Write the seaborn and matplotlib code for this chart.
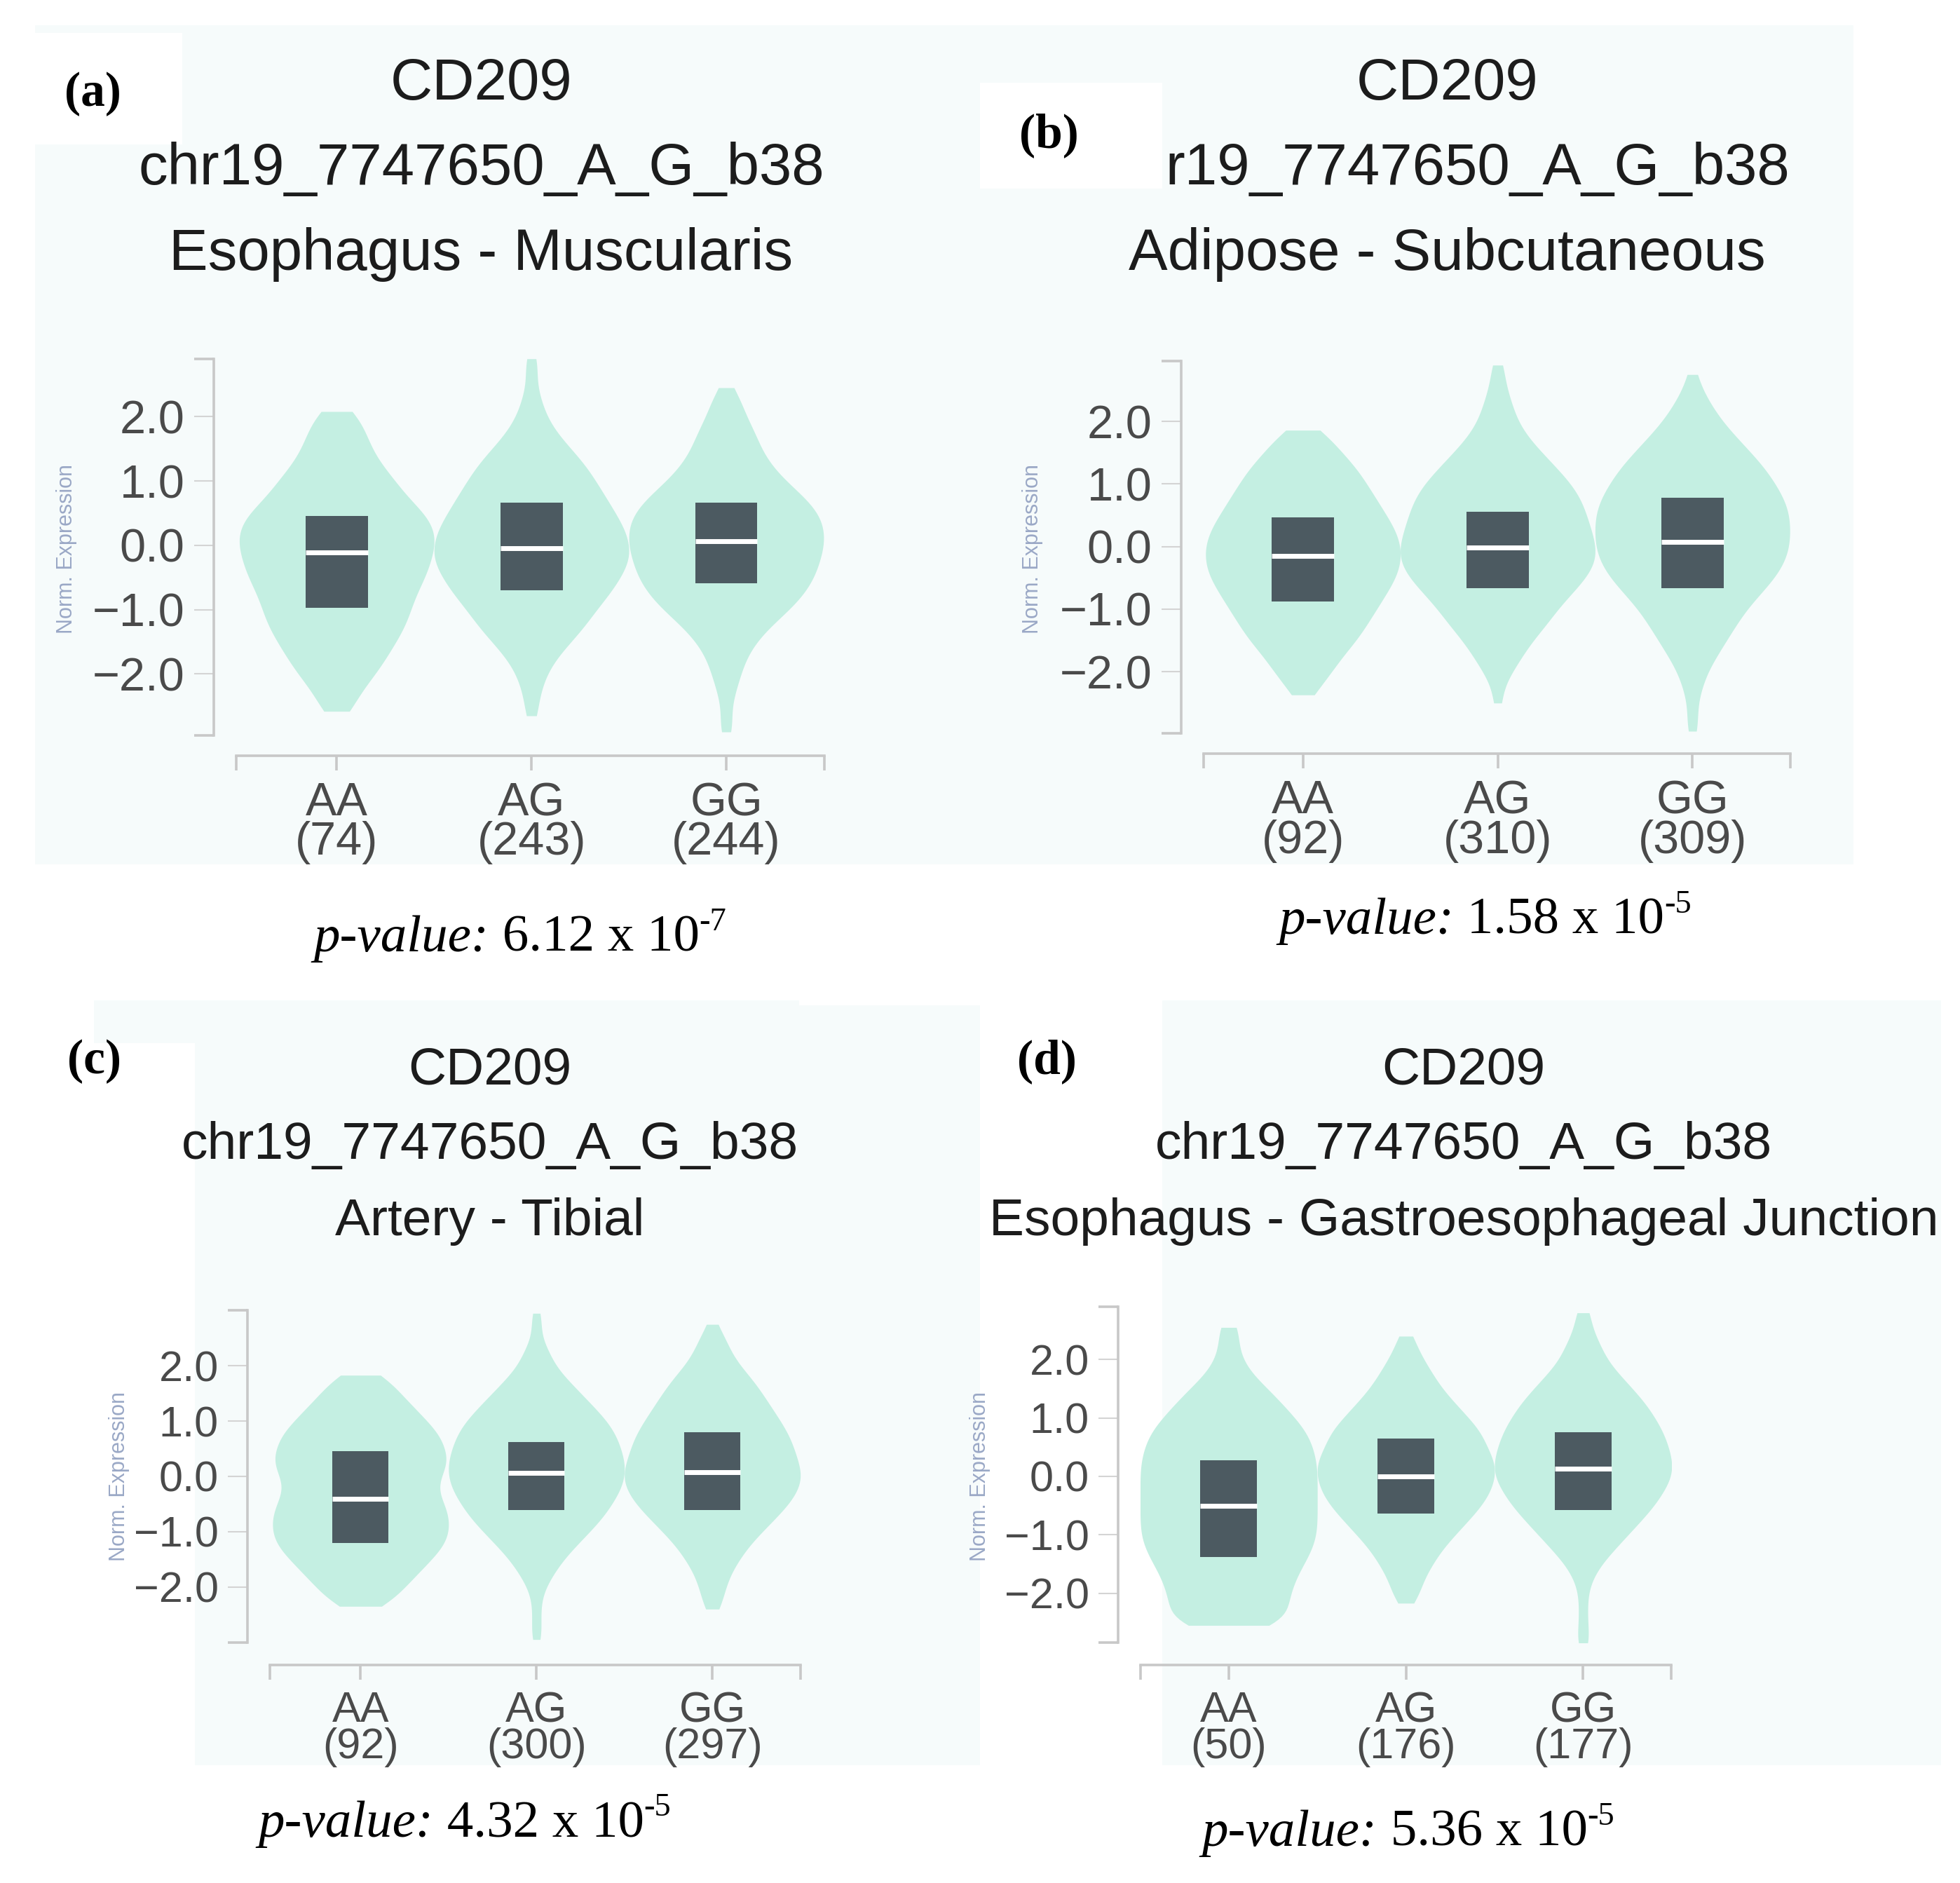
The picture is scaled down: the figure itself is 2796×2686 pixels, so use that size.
import numpy as np
import pandas as pd
import matplotlib
matplotlib.use("Agg")
import matplotlib.pyplot as plt
import seaborn as sns
from matplotlib.patches import Rectangle

# ---------------- data ----------------
GENOTYPES = ["AA", "AG", "GG"]
LEVELS = [-2.75, -2.5, -2.25, -2.0, -1.75, -1.5, -1.25, -1.0, -0.75, -0.5, -0.25,
          0.0, 0.25, 0.5, 0.75, 1.0, 1.25, 1.5, 1.75, 2.0, 2.25, 2.5, 2.75]

# (a) Esophagus - Muscularis
a_aa_counts = [0, 3, 5, 8, 10, 12, 14, 15, 16, 18, 19, 20, 20, 18, 14, 12, 9, 7, 6, 4, 0, 0, 0]
a_ag_counts = [0, 1, 2, 3, 5, 8, 11, 13, 16, 18, 20, 20, 19, 17, 15, 13, 11, 8, 5, 3, 2, 1, 1]
a_gg_counts = [1, 1, 2, 3, 4, 6, 9, 13, 16, 18, 19, 20, 20, 19, 16, 12, 9, 7, 6, 4, 3, 0, 0]
a_lo = [-2.58, -2.65, -2.9]
a_hi = [2.08, 2.9, 2.45]
a_q1 = [-0.97, -0.70, -0.59]
a_med = [-0.11, -0.05, 0.06]
a_q3 = [0.46, 0.66, 0.66]
a_n = [74, 243, 244]

# (b) Adipose - Subcutaneous
b_aa_counts = [0, 0, 3, 6, 8, 11, 13, 15, 17, 19, 20, 20, 19, 17, 15, 13, 11, 8, 5, 0, 0, 0, 0]
b_ag_counts = [0, 0, 1, 3, 5, 7, 10, 12, 15, 18, 20, 20, 19, 18, 17, 15, 12, 9, 6, 4, 3, 2, 1]
b_gg_counts = [1, 1, 2, 3, 5, 7, 9, 11, 14, 17, 19, 20, 20, 20, 19, 17, 15, 12, 9, 6, 4, 2, 0]
b_lo = [-2.37, -2.5, -2.95]
b_hi = [1.86, 2.9, 2.75]
b_q1 = [-0.88, -0.66, -0.66]
b_med = [-0.15, -0.02, 0.07]
b_q3 = [0.47, 0.56, 0.78]
b_n = [92, 310, 309]

# (c) Artery - Tibial
c_aa_counts = [0, 0, 7, 10, 13, 16, 19, 20, 20, 19, 17, 18, 20, 19, 18, 15, 12, 9, 6, 0, 0, 0, 0]
c_ag_counts = [1, 1, 1, 2, 4, 6, 9, 12, 15, 17, 19, 20, 20, 19, 18, 16, 13, 10, 7, 4, 3, 1, 1]
c_gg_counts = [0, 0, 2, 3, 4, 6, 8, 11, 14, 17, 19, 20, 19, 18, 17, 15, 13, 11, 9, 6, 4, 3, 0]
c_lo = [-2.35, -2.95, -2.4]
c_hi = [1.83, 2.95, 2.75]
c_q1 = [-1.2, -0.61, -0.61]
c_med = [-0.4, 0.06, 0.07]
c_q3 = [0.46, 0.62, 0.8]
c_n = [92, 300, 297]

# (d) Esophagus - Gastroesophageal Junction
d_aa_counts = [0, 14, 13, 14, 15, 17, 19, 20, 20, 20, 20, 20, 20, 19, 18, 15, 12, 9, 5, 3, 2, 2, 0]
d_ag_counts = [0, 0, 0, 3, 4, 6, 8, 11, 14, 17, 19, 20, 20, 18, 17, 14, 11, 8, 6, 4, 2, 0, 0]
d_gg_counts = [1, 1, 1, 1, 2, 4, 7, 10, 13, 16, 18, 20, 20, 19, 18, 16, 14, 11, 8, 5, 4, 2, 1]
d_lo = [-2.55, -2.17, -2.85]
d_hi = [2.55, 2.4, 2.8]
d_q1 = [-1.38, -0.63, -0.57]
d_med = [-0.5, 0.0, 0.13]
d_q3 = [0.28, 0.65, 0.75]
d_n = [50, 176, 177]

GENE = "CD209"
VARIANT = "chr19_7747650_A_G_b38"
VARIANT_B = "r19_7747650_A_G_b38"
TISSUES = ["Esophagus - Muscularis", "Adipose - Subcutaneous",
           "Artery - Tibial", "Esophagus - Gastroesophageal Junction"]
P_MANT = ["6.12", "1.58", "4.32", "5.36"]
P_EXP = ["-7", "-5", "-5", "-5"]
LETTERS = ["(a)", "(b)", "(c)", "(d)"]

# ---------------- style ----------------
sns.set_style("white")
plt.rcParams["font.family"] = ["Liberation Sans", "DejaVu Sans"]

VIOLIN = "#c4efe2"
BOX = "#4c5a61"
AXIS = "#c8c8c8"
TICKLAB = "#4a4a4a"
TITLE = "#1c1c1c"
BG = "#f6fbfb"

W, H = 2796, 2686
DW, DH = 1560.0, 1498.6
fig = plt.figure(figsize=(W / 100, H / 100), dpi=100)
fig.patch.set_facecolor("white")


def fx(x):
    return x / DW


def fy(y):
    return 1 - y / DH


def bg(x0, y0, x1, y1, color):
    fig.patches.append(Rectangle((fx(x0), fy(y1)), fx(x1) - fx(x0), fy(y0) - fy(y1),
                                 transform=fig.transFigure, facecolor=color,
                                 edgecolor="none", zorder=-10))


# panel backgrounds (screenshot areas)
bg(28, 20, 1475, 688, BG)
bg(28, 26, 145, 115, "white")
bg(780, 66, 925, 150, "white")
bg(75, 796, 636, 830, BG)
bg(155, 800, 780, 1405, BG)
bg(925, 796, 1545, 1405, BG)

panels = [
    dict(counts=[a_aa_counts, a_ag_counts, a_gg_counts], lo=a_lo, hi=a_hi, q1=a_q1, med=a_med,
         q3=a_q3, n=a_n, left=188, right=656, zero=434, ppu=51.2, ylim=(-2.95, 2.9),
         xlim=(-0.516, 2.503), fs_tick=48, fs_title=60, tx=[383, 383, 383],
         tb=[79, 147, 215], letter=(74, 75), p=(414, 757), ylab=(53, 437),
         spine=(23, 21), variant=VARIANT),
    dict(counts=[b_aa_counts, b_ag_counts, b_gg_counts], lo=b_lo, hi=b_hi, q1=b_q1, med=b_med,
         q3=b_q3, n=b_n, left=958, right=1425, zero=435, ppu=49.8, ylim=(-2.98, 2.96),
         xlim=(-0.51, 2.503), fs_tick=48, fs_title=60, tx=[1152, 1176, 1152],
         tb=[79, 147, 215], letter=(835, 108), p=(1182, 743), ylab=(822, 437),
         spine=(23, 21), variant=VARIANT_B),
    dict(counts=[c_aa_counts, c_ag_counts, c_gg_counts], lo=c_lo, hi=c_hi, q1=c_q1, med=c_med,
         q3=c_q3, n=c_n, left=215, right=637, zero=1175, ppu=44.0, ylim=(-3.0, 3.0),
         xlim=(-0.514, 2.5), fs_tick=44, fs_title=54, tx=[390, 390, 390],
         tb=[863, 922, 983], letter=(75, 845), p=(370, 1462), ylab=(95, 1175),
         spine=(23, 23), variant=VARIANT),
    dict(counts=[d_aa_counts, d_ag_counts, d_gg_counts], lo=d_lo, hi=d_hi, q1=d_q1, med=d_med,
         q3=d_q3, n=d_n, left=908, right=1330, zero=1175, ppu=46.5, ylim=(-2.84, 2.9),
         xlim=(-0.496, 2.496), fs_tick=44, fs_title=54, tx=[1165, 1165, 1165],
         tb=[863, 922, 983], letter=(833, 845), p=(1121, 1469), ylab=(780, 1175),
         spine=(23, 23), variant=VARIANT),
]

renderer = fig.canvas.get_renderer()


def place_pvalue(xc, ybase, mant, exp, size=54):
    y = fy(ybase)
    t1 = fig.text(0, y, "p-value:", fontstyle="italic", family=["Liberation Serif"],
                  fontsize=size, va="baseline", ha="left", color="black")
    t2 = fig.text(0, y, " " + mant + " x 10", family=["Liberation Serif"],
                  fontsize=size, va="baseline", ha="left", color="black")
    t3 = fig.text(0, y + 0.40 * size / 0.72 / H, exp, family=["Liberation Serif"],
                  fontsize=size * 0.62, va="baseline", ha="left", color="black")
    w = [t.get_window_extent(renderer).width / W for t in (t1, t2, t3)]
    x0 = fx(xc) - sum(w) / 2
    t1.set_x(x0)
    t2.set_x(x0 + w[0])
    t3.set_x(x0 + w[0] + w[1])


for i, P in enumerate(panels):
    top_px = P["zero"] - P["ylim"][1] * P["ppu"]
    bot_px = P["zero"] - P["ylim"][0] * P["ppu"]
    ax = fig.add_axes([fx(P["left"]), fy(bot_px), fx(P["right"]) - fx(P["left"]),
                       (bot_px - top_px) / DH])
    ax.patch.set_alpha(0)

    frames = []
    for g, cnt, lo, hi in zip(GENOTYPES, P["counts"], P["lo"], P["hi"]):
        vals = np.concatenate([np.repeat(LEVELS, cnt), [lo, hi]])
        frames.append(pd.DataFrame({"genotype": g, "value": vals}))
    df = pd.concat(frames, ignore_index=True)

    sns.violinplot(data=df, x="genotype", y="value", order=GENOTYPES, ax=ax,
                   inner=None, cut=0, density_norm="width", width=1.0,
                   color=VIOLIN, saturation=1, linewidth=0, bw_adjust=0.6)

    pos = np.arange(len(GENOTYPES))
    q1 = np.array(P["q1"])
    q3 = np.array(P["q3"])
    bw = 0.32
    ax.bar(pos, q3 - q1, bottom=q1, width=bw, color=BOX, linewidth=0, zorder=3)
    ax.hlines(P["med"], pos - bw / 2, pos + bw / 2, color="white", lw=5, zorder=4)

    ax.set_xlim(*P["xlim"])
    ax.set_ylim(*P["ylim"])
    ax.set_xlabel("")
    ax.set_ylabel("")
    for s in ["top", "right"]:
        ax.spines[s].set_visible(False)
    ax.spines["left"].set_position(("outward", P["spine"][0]))
    ax.spines["bottom"].set_position(("outward", P["spine"][1]))
    for s in ["left", "bottom"]:
        ax.spines[s].set_color(AXIS)
        ax.spines[s].set_linewidth(2.6)

    ax.set_yticks([-2, -1, 0, 1, 2])
    ax.set_yticklabels(["\u22122.0", "\u22121.0", "0.0", "1.0", "2.0"])
    ax.set_yticks(list(P["ylim"]), minor=True)
    ax.set_xticks(pos)
    ax.set_xticklabels([f"{g}\n({n})" for g, n in zip(GENOTYPES, P["n"])],
                       linespacing=0.88)
    ax.set_xticks(list(P["xlim"]), minor=True)

    ax.tick_params(axis="y", which="major", length=20, width=1.5, color="#d4d4d4",
                   labelsize=P["fs_tick"], labelcolor=TICKLAB, pad=10, left=True)
    ax.tick_params(axis="y", which="minor", length=20, width=2.6, color=AXIS, left=True)
    ax.tick_params(axis="x", which="major", length=15, width=2.6, color=AXIS,
                   labelsize=P["fs_tick"], labelcolor=TICKLAB, pad=12, bottom=True)
    ax.tick_params(axis="x", which="minor", length=15, width=2.6, color=AXIS, bottom=True)

    # y-axis label (faint, as in the screenshot)
    fig.text(fx(P["ylab"][0]), fy(P["ylab"][1]), "Norm. Expression", rotation=90,
             fontsize=22, color="#9aa8c6", ha="center", va="center")

    # titles
    lines = [GENE, P["variant"], TISSUES[i]]
    for ln, xx, yy in zip(lines, P["tx"], P["tb"]):
        fig.text(fx(xx), fy(yy), ln, fontsize=P["fs_title"], color=TITLE,
                 ha="center", va="baseline")

    # panel letter
    fig.text(fx(P["letter"][0]), fy(P["letter"][1]), LETTERS[i], fontsize=50,
             fontweight="bold", family=["Liberation Serif"], ha="center", va="center",
             color="black")

    place_pvalue(P["p"][0], P["p"][1], P_MANT[i], P_EXP[i])

fig.savefig("out.png", dpi=100, facecolor="white")
